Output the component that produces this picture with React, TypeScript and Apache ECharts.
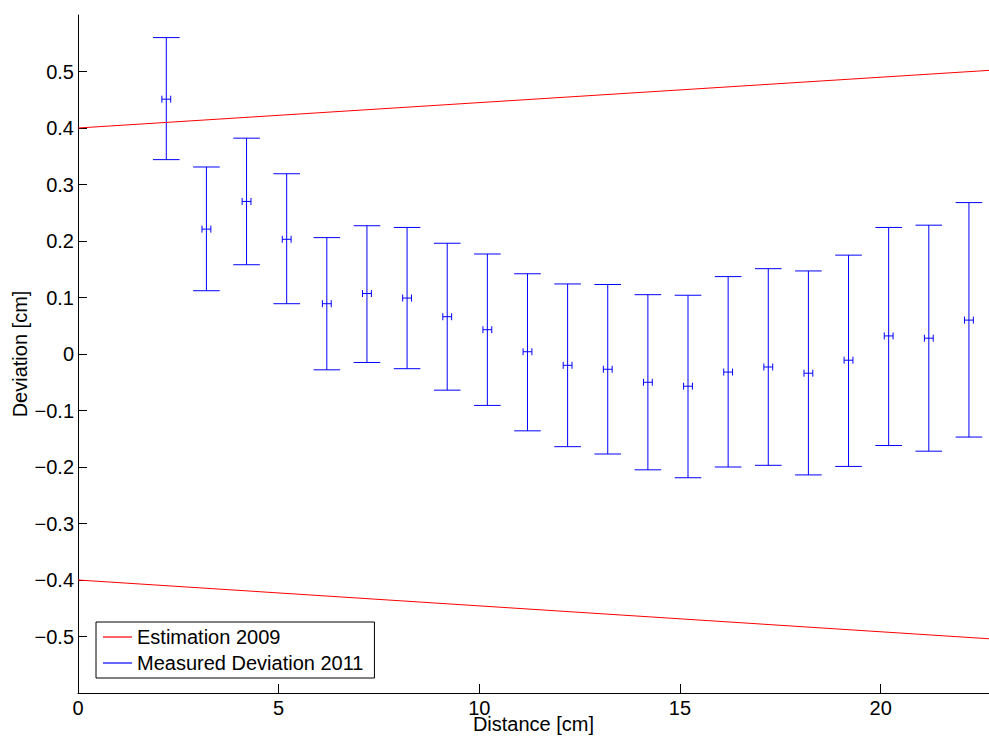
import React, { useEffect, useRef } from "react";
import * as echarts from "echarts";

// ---- data ----
const distances = [2.2, 3.2, 4.2, 5.2, 6.2, 7.2, 8.2, 9.2, 10.2, 11.2, 12.2, 13.2, 14.2, 15.2, 16.2, 17.2, 18.2, 19.2, 20.2, 21.2, 22.2];
const meanDeviation = [0.451, 0.221, 0.270, 0.203, 0.089, 0.107, 0.099, 0.066, 0.043, 0.004, -0.020, -0.027, -0.050, -0.057, -0.032, -0.023, -0.034, -0.011, 0.032, 0.028, 0.060];
const upperDeviation = [0.560, 0.331, 0.382, 0.319, 0.206, 0.227, 0.224, 0.196, 0.177, 0.142, 0.124, 0.123, 0.105, 0.104, 0.137, 0.151, 0.147, 0.175, 0.224, 0.228, 0.268];
const lowerDeviation = [0.344, 0.112, 0.158, 0.089, -0.028, -0.015, -0.026, -0.064, -0.091, -0.136, -0.164, -0.177, -0.205, -0.219, -0.200, -0.197, -0.214, -0.199, -0.162, -0.172, -0.147];
const distanceError = 0.11;

const estimationX = [0, 22.7];
const estimationUpper = [0.4, 0.502];
const estimationLower = [-0.4, -0.504];

const xTicks = [0, 5, 10, 15, 20];
const yTicks = [-0.5, -0.4, -0.3, -0.2, -0.1, 0, 0.1, 0.2, 0.3, 0.4, 0.5];

const FONT = "'Liberation Sans', Arial, Helvetica, sans-serif";
const FS = 20;
const BLUE = "#0000ff";
const RED = "#ff0000";

function fmt(v: number): string {
  const s = String(Math.round(v * 10) / 10);
  return s.replace("-", "\u2212");
}

export default function App() {
  const ref = useRef<HTMLDivElement>(null);
  useEffect(() => {
    if (!ref.current) return;
    const chart = echarts.init(ref.current, undefined, { renderer: "svg" });
    const errData = distances.map((x, i) => [x, meanDeviation[i], lowerDeviation[i], upperDeviation[i]]);
    const option: any = {
      animation: false,
      backgroundColor: "#fff",
      textStyle: { fontFamily: FONT },
      grid: { left: 78, right: 0, top: 15, bottom: 45, containLabel: false, outerBoundsMode: "none" },
      legend: {
        show: true,
        orient: "vertical",
        left: 96,
        top: 622,
        backgroundColor: "#fff",
        borderColor: "#000",
        borderWidth: 1,
        borderRadius: 0,
        padding: [5, 11, 5, 7],
        itemGap: 6,
        itemWidth: 29,
        itemHeight: 1.2,
        textStyle: { fontFamily: FONT, fontSize: FS, color: "#000", padding: [0, 0, 0, 0] },
        data: [
          { name: "Estimation 2009", icon: "rect", itemStyle: { color: RED } },
          { name: "Measured Deviation 2011", icon: "rect", itemStyle: { color: BLUE } },
        ],
      },
      xAxis: {
        type: "value",
        min: 0,
        max: 22.7,
        interval: 5,
        name: "Distance [cm]",
        nameLocation: "middle",
        nameGap: 21,
        nameMoveOverlap: false,
        nameTextStyle: { fontFamily: FONT, fontSize: FS, color: "#000" },
        splitLine: { show: false },
        axisLine: { show: true, onZero: false, lineStyle: { color: "#000", width: 1 } },
        axisTick: { show: true, inside: true, length: 9, customValues: xTicks, lineStyle: { color: "#000" } },
        axisLabel: {
          show: true,
          margin: 5,
          customValues: xTicks,
          fontFamily: FONT,
          fontSize: FS,
          color: "#000",
          formatter: (v: number) => fmt(v),
        },
      },
      yAxis: {
        type: "value",
        min: -0.6,
        max: 0.6,
        interval: 0.1,
        name: "Deviation [cm]",
        nameLocation: "middle",
        nameGap: 48,
        nameMoveOverlap: false,
        nameRotate: 90,
        nameTextStyle: { fontFamily: FONT, fontSize: FS, color: "#000" },
        splitLine: { show: false },
        axisLine: { show: true, onZero: false, lineStyle: { color: "#000", width: 1 } },
        axisTick: { show: true, inside: true, length: 9, customValues: yTicks, lineStyle: { color: "#000" } },
        axisLabel: {
          show: true,
          margin: 4,
          customValues: yTicks,
          fontFamily: FONT,
          fontSize: FS,
          color: "#000",
          formatter: (v: number) => fmt(v),
        },
      },
      series: [
        {
          name: "Estimation 2009",
          type: "line",
          data: estimationX.map((x, i) => [x, estimationUpper[i]]),
          symbol: "none",
          showSymbol: false,
          color: RED,
          lineStyle: { color: RED, width: 1 },
          z: 3,
        },
        {
          name: "Estimation 2009",
          type: "line",
          data: estimationX.map((x, i) => [x, estimationLower[i]]),
          symbol: "none",
          showSymbol: false,
          color: RED,
          lineStyle: { color: RED, width: 1 },
          z: 3,
        },
        {
          name: "Measured Deviation 2011",
          type: "custom",
          color: BLUE,
          itemStyle: { color: BLUE },
          encode: { x: 0, y: [1, 2, 3] },
          data: errData,
          z: 2,
          renderItem: (params: any, api: any) => {
            const x = api.value(0);
            const m = api.value(1);
            const lo = api.value(2);
            const hi = api.value(3);
            const pHi = api.coord([x, hi]);
            const pLo = api.coord([x, lo]);
            const pM = api.coord([x, m]);
            const pL = api.coord([x - distanceError, m]);
            const pR = api.coord([x + distanceError, m]);
            const cap = 13.3;
            const small = 3.5;
            const style = { stroke: BLUE, lineWidth: 1, fill: null };
            const ln = (x1: number, y1: number, x2: number, y2: number) => ({
              type: "line",
              shape: { x1, y1, x2, y2 },
              style,
            });
            return {
              type: "group",
              children: [
                ln(pHi[0], pHi[1], pLo[0], pLo[1]),
                ln(pHi[0] - cap, pHi[1], pHi[0] + cap, pHi[1]),
                ln(pLo[0] - cap, pLo[1], pLo[0] + cap, pLo[1]),
                ln(pL[0], pM[1], pR[0], pM[1]),
                ln(pL[0], pM[1] - small, pL[0], pM[1] + small),
                ln(pR[0], pM[1] - small, pR[0], pM[1] + small),
              ],
            };
          },
        },
      ],
    };
    chart.setOption(option);
    return () => chart.dispose();
  }, []);
  return (
    <div
      ref={ref}
      style={{ position: "fixed", left: 0, top: 0, width: 989, height: 738, background: "#fff" }}
    />
  );
}
